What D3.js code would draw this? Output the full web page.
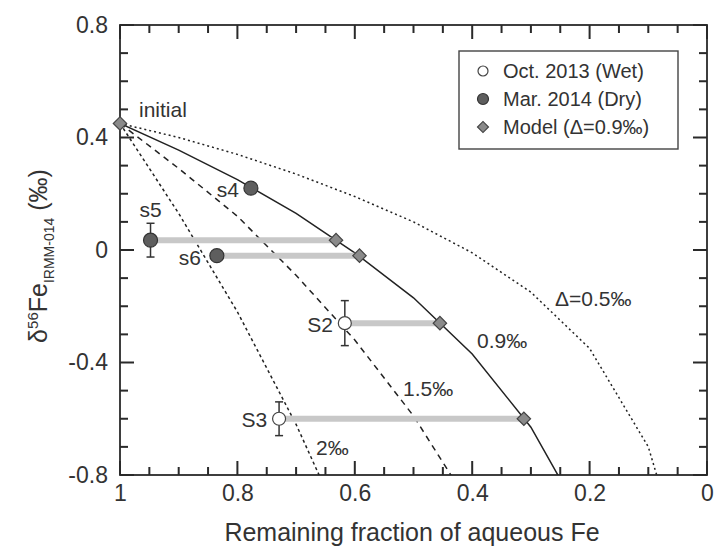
<!DOCTYPE html>
<html>
<head>
<meta charset="utf-8">
<script src="https://cdn.jsdelivr.net/npm/d3@7"></script>
<style>
  html, body { margin: 0; padding: 0; background: #fff; }
  svg { display: block; }
  text { font-family: "Liberation Sans", Arial, Helvetica, sans-serif; fill: #333; }
</style>
</head>
<body>
<svg id="chart" width="715" height="549"></svg>
<script>
// Remaining fraction of aqueous Fe at which the fractionation curves are evaluated
const curveFractions = [1, 0.9, 0.8, 0.7, 0.6, 0.5, 0.4, 0.3, 0.2, 0.1, 0.05];
// δ56Fe along each fractionation curve (‰)
const curveD05 = [0.45, 0.40, 0.34, 0.27, 0.19, 0.10, -0.01, -0.15, -0.35, -0.70, -1.05];
const curveD09 = [0.45, 0.355, 0.25, 0.13, -0.01, -0.17, -0.37, -0.63, -1.00];
const curveD15 = [0.45, 0.29, 0.12, -0.09, -0.32, -0.59, -0.92];
const curveD2  = [0.45, 0.13, -0.22, -0.62, -1.08];

// Oct. 2013 (wet season) samples
const wetNames = ["S2", "S3"];
const wetFraction = [0.617, 0.729];
const wetDelta = [-0.26, -0.60];
const wetErr = [0.08, 0.06];
const wetModelFraction = [0.455, 0.312];

// Mar. 2014 (dry season) samples
const dryNames = ["s4", "s5", "s6"];
const dryFraction = [0.777, 0.948, 0.835];
const dryDelta = [0.22, 0.035, -0.02];
const dryErr = [0, 0.06, 0];
const dryModelFraction = [null, 0.632, 0.592];

// Initial composition
const initialFraction = 1;
const initialDelta = 0.45;

const xTicks = [1, 0.8, 0.6, 0.4, 0.2, 0];
const xTickLabels = ["1", "0.8", "0.6", "0.4", "0.2", "0"];
const yTicks = [0.8, 0.4, 0, -0.4, -0.8];
const yTickLabels = ["0.8", "0.4", "0", "-0.4", "-0.8"];

const svg = d3.select("#chart");
const plotLeft = 120, plotRight = 707, plotTop = 25, plotBottom = 475;

const x = d3.scaleLinear().domain([1, 0]).range([plotLeft, plotRight]);
const y = d3.scaleLinear().domain([-0.8, 0.8]).range([plotBottom, plotTop]);

svg.append("defs").append("clipPath").attr("id", "plotClip")
  .append("rect").attr("x", plotLeft).attr("y", plotTop)
  .attr("width", plotRight - plotLeft).attr("height", plotBottom - plotTop);

// ---- axes: labels via d3 axes, frame and inward ticks on all four sides ----
const axisColor = "#2a2a2a";
function styleAxis(g) {
  g.selectAll("path.domain").remove();
  g.selectAll(".tick line").remove();
  g.selectAll("text").attr("fill", "#333").attr("font-size", 23)
    .attr("font-family", '"Liberation Sans", Arial, sans-serif');
}
svg.append("g").attr("transform", `translate(0,${plotBottom})`)
  .call(d3.axisBottom(x).tickValues(xTicks).tickSize(0)
    .tickPadding(10).tickFormat((d, i) => xTickLabels[i]))
  .call(styleAxis);
svg.append("g").attr("transform", `translate(${plotLeft},0)`)
  .call(d3.axisLeft(y).tickValues(yTicks).tickSize(0)
    .tickPadding(12).tickFormat((d, i) => yTickLabels[i]))
  .call(styleAxis);

const xMinor = d3.range(0, 21).map(i => i * 0.05);
const yMinor = d3.range(-8, 9).map(i => i * 0.1);
const isMajorX = v => Math.abs(v * 5 - Math.round(v * 5)) < 1e-6;      // multiples of 0.2
const isMajorY = v => Math.abs(v * 2.5 - Math.round(v * 2.5)) < 1e-6;  // multiples of 0.4

// tick marks drawn as thin filled bars, pointing inward on every side
const tickW = 2;
const majorLen = 14, minorLen = 8;
const tickG = svg.append("g").attr("fill", axisColor);
tickG.selectAll("rect.xb").data(xMinor).join("rect").attr("class", "xb")
  .attr("x", d => x(d) - tickW / 2).attr("width", tickW)
  .attr("y", d => plotBottom - (isMajorX(d) ? majorLen : minorLen))
  .attr("height", d => isMajorX(d) ? majorLen : minorLen);
tickG.selectAll("rect.xt").data(xMinor).join("rect").attr("class", "xt")
  .attr("x", d => x(d) - tickW / 2).attr("width", tickW)
  .attr("y", plotTop).attr("height", d => isMajorX(d) ? majorLen : minorLen);
tickG.selectAll("rect.yl").data(yMinor).join("rect").attr("class", "yl")
  .attr("y", d => y(d) - tickW / 2).attr("height", tickW)
  .attr("x", plotLeft).attr("width", d => isMajorY(d) ? majorLen : minorLen);
tickG.selectAll("rect.yr").data(yMinor).join("rect").attr("class", "yr")
  .attr("y", d => y(d) - tickW / 2).attr("height", tickW)
  .attr("x", d => plotRight - (isMajorY(d) ? majorLen : minorLen))
  .attr("width", d => isMajorY(d) ? majorLen : minorLen);

svg.append("rect").attr("x", plotLeft).attr("y", plotTop)
  .attr("width", plotRight - plotLeft).attr("height", plotBottom - plotTop)
  .attr("fill", "none").attr("stroke", axisColor).attr("stroke-width", 1.8);

// ---- axis titles ----
svg.append("text")
  .attr("x", 412).attr("y", 541)
  .attr("text-anchor", "middle")
  .attr("font-size", 25)
  .text("Remaining fraction of aqueous Fe");

const yTitle = svg.append("text")
  .attr("transform", "translate(47,256) rotate(-90)")
  .attr("text-anchor", "middle")
  .attr("font-size", 25);
yTitle.append("tspan").text("δ");
yTitle.append("tspan").attr("font-size", 15).attr("dy", -9).text("56");
yTitle.append("tspan").attr("dy", 9).text("Fe");
yTitle.append("tspan").attr("font-size", 14).attr("dy", 7).text("IRMM-014");
yTitle.append("tspan").attr("dy", -7).text(" (‰)");

// ---- fractionation curves ----
const plot = svg.append("g").attr("clip-path", "url(#plotClip)");
const line = d3.line().x(d => x(d[0])).y(d => y(d[1]));
const curves = [
  { values: curveD05, dash: "2,3", width: 1.5 },
  { values: curveD09, dash: null, width: 1.5 },
  { values: curveD15, dash: "6,5", width: 1.5 },
  { values: curveD2,  dash: "3,3", width: 1.5 }
];
curves.forEach(c => {
  const pts = c.values.map((v, i) => [curveFractions[i], v]);
  plot.append("path").attr("d", line(pts))
    .attr("fill", "none").attr("stroke", "#222")
    .attr("stroke-width", c.width)
    .attr("stroke-dasharray", c.dash);
});

// ---- connectors between samples and model points ----
const barColor = "#c8c8c8";
wetFraction.forEach((f, i) => {
  plot.append("line")
    .attr("x1", x(f)).attr("x2", x(wetModelFraction[i]))
    .attr("y1", y(wetDelta[i])).attr("y2", y(wetDelta[i]))
    .attr("stroke", barColor).attr("stroke-width", 6);
});
dryFraction.forEach((f, i) => {
  if (dryModelFraction[i] === null) return;
  plot.append("line")
    .attr("x1", x(f)).attr("x2", x(dryModelFraction[i]))
    .attr("y1", y(dryDelta[i])).attr("y2", y(dryDelta[i]))
    .attr("stroke", barColor).attr("stroke-width", 6);
});

// ---- error bars ----
function errorBar(f, d, e) {
  if (!e) return;
  const cx = x(f);
  const g = svg.append("g").attr("stroke", "#333").attr("stroke-width", 1.5);
  g.append("line").attr("x1", cx).attr("x2", cx).attr("y1", y(d + e)).attr("y2", y(d - e));
  g.append("line").attr("x1", cx - 4).attr("x2", cx + 4).attr("y1", y(d + e)).attr("y2", y(d + e));
  g.append("line").attr("x1", cx - 4).attr("x2", cx + 4).attr("y1", y(d - e)).attr("y2", y(d - e));
}
wetFraction.forEach((f, i) => errorBar(f, wetDelta[i], wetErr[i]));
dryFraction.forEach((f, i) => errorBar(f, dryDelta[i], dryErr[i]));

// ---- markers ----
function drawDiamond(g, cx, cy, size) {
  g.append("path")
    .attr("d", d3.symbol().type(d3.symbolSquare).size(size)())
    .attr("transform", `translate(${cx},${cy}) rotate(45)`)
    .attr("fill", "#8a8a8a").attr("stroke", "#444").attr("stroke-width", 1.2);
}
drawDiamond(svg, x(initialFraction), y(initialDelta), 90);
wetModelFraction.forEach((f, i) => drawDiamond(svg, x(f), y(wetDelta[i]), 90));
dryModelFraction.forEach((f, i) => { if (f !== null) drawDiamond(svg, x(f), y(dryDelta[i]), 90); });

wetFraction.forEach((f, i) => {
  svg.append("circle").attr("cx", x(f)).attr("cy", y(wetDelta[i])).attr("r", 6.5)
    .attr("fill", "#fff").attr("stroke", "#444").attr("stroke-width", 1.2);
});
dryFraction.forEach((f, i) => {
  svg.append("circle").attr("cx", x(f)).attr("cy", y(dryDelta[i])).attr("r", 7)
    .attr("fill", "#5e5e5e").attr("stroke", "#333").attr("stroke-width", 1.2);
});

// ---- annotations ----
const labelSize = 21;
function label(txt, lx, ly, anchor) {
  svg.append("text").attr("x", lx).attr("y", ly)
    .attr("text-anchor", anchor || "start")
    .attr("dominant-baseline", "central")
    .attr("font-size", labelSize).text(txt);
}
label("initial", x(initialFraction) + 19, y(initialDelta) - 14);
label(dryNames[0], x(dryFraction[0]) - 12, y(dryDelta[0]) + 1, "end");
label(dryNames[1], x(dryFraction[1]), y(dryDelta[1]) - 31, "middle");
label(dryNames[2], x(dryFraction[2]) - 16, y(dryDelta[2]) + 2, "end");
label(wetNames[0], x(wetFraction[0]) - 12, y(wetDelta[0]) + 1, "end");
label(wetNames[1], x(wetFraction[1]) - 12, y(wetDelta[1]) + 1, "end");
label("2‰", 316, 447);
label("1.5‰", 403, 388);
label("0.9‰", 477, 340);
label("Δ=0.5‰", 555, 298);

// ---- legend ----
const legend = svg.append("g");
legend.append("rect").attr("x", 459).attr("y", 51).attr("width", 219).attr("height", 98)
  .attr("fill", "#fff").attr("stroke", "#444").attr("stroke-width", 1.4);
const legendItems = ["Oct. 2013 (Wet)", "Mar. 2014 (Dry)", "Model (Δ=0.9‰)"];
const legendY = [71, 99, 127];
legend.append("circle").attr("cx", 483).attr("cy", legendY[0]).attr("r", 5)
  .attr("fill", "#fff").attr("stroke", "#444").attr("stroke-width", 1.2);
legend.append("circle").attr("cx", 483).attr("cy", legendY[1]).attr("r", 5.5)
  .attr("fill", "#5e5e5e").attr("stroke", "#333").attr("stroke-width", 1.2);
drawDiamond(legend, 483, legendY[2], 60);
legendItems.forEach((t, i) => {
  legend.append("text").attr("x", 503).attr("y", legendY[i])
    .attr("dominant-baseline", "central").attr("font-size", 20).text(t);
});
</script>
</body>
</html>
